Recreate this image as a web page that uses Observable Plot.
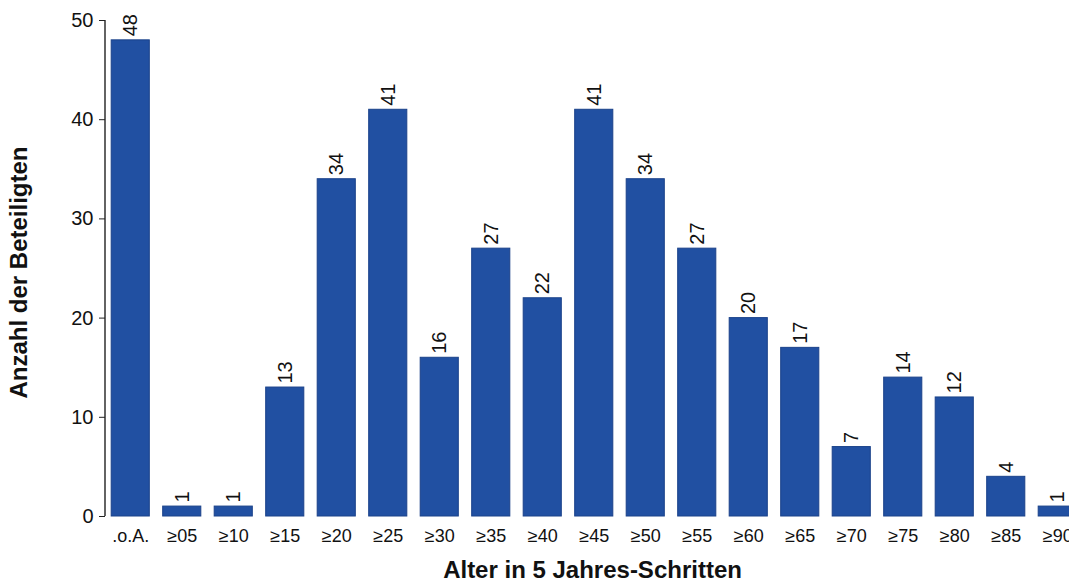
<!DOCTYPE html>
<html><head><meta charset="utf-8">
<script src="https://cdn.jsdelivr.net/npm/d3@7"></script>
<script src="https://cdn.jsdelivr.net/npm/@observablehq/plot@0.6"></script>
<style>
body{margin:0;background:#fff;font-family:"Liberation Sans",Arial,sans-serif;}
svg{overflow:hidden;}
</style></head>
<body><div id="chart"></div>
<script>
const categories = [".o.A.","≥05","≥10","≥15","≥20","≥25","≥30","≥35","≥40","≥45","≥50","≥55","≥60","≥65","≥70","≥75","≥80","≥85","≥90"];
const counts = [48,1,1,13,34,41,16,27,22,41,34,27,20,17,7,14,12,4,1];
const yTicks = [0,10,20,30,40,50];
const yTitle = "Anzahl der Beteiligten";
const xTitle = "Alter in 5 Jahres-Schritten";

const data = categories.map((c,i)=>({cat:c, n:counts[i]}));

const chart = Plot.plot({
  width: 1069, height: 584,
  marginTop: 20, marginBottom: 68, marginLeft: 103, marginRight: 0,
  style: {fontFamily: "Liberation Sans, Arial, sans-serif", background: "#fff"},
  x: {domain: categories, range: [104.5, 1083], paddingInner: 0.26, paddingOuter: 0.13, round: false, axis: null},
  y: {domain: [0, 50], axis: null},
  marks: [
    Plot.gridY(yTicks.filter(d=>d>0), {stroke: "#333", strokeOpacity: 1, strokeWidth: 1.3, x1: 105, x2: 1069}),
    Plot.barY(data, {x: "cat", y: "n", fill: "#2150a2", stroke: "#1a428a", strokeWidth: 1}),
    Plot.ruleY([0], {stroke: "#222", strokeWidth: 1.6, x1: 105, x2: 1069}),
    Plot.axisY(yTicks, {tickSize: 6, fontSize: 20, fill: "#111", tickPadding: 6, stroke: "#222", label: null, dx: 2}),
    Plot.axisX({tickSize: 0, fontSize: 18, fill: "#111", tickPadding: 13, label: null}),
    Plot.text(data, {x: "cat", y: "n", text: d => String(d.n), rotate: -90, textAnchor: "start", lineAnchor: "middle", dy: -4, fontSize: 20, fill: "#111"}),
    Plot.text([yTitle], {frameAnchor: "left", rotate: -90, textAnchor: "middle", lineAnchor: "middle", dx: -84, dy: 4, fontSize: 24, fontWeight: "bold", fill: "#111"}),
    Plot.text([xTitle], {frameAnchor: "bottom", textAnchor: "middle", dy: 61, dx: 6, fontSize: 24, fontWeight: "bold", fill: "#111"})
  ]
});
document.getElementById("chart").appendChild(chart);
// left frame line
const svg = d3.select(chart);
svg.append("line").attr("x1",105).attr("x2",105).attr("y1",20).attr("y2",516).attr("stroke","#222").attr("stroke-width",1.4);
</script>
</body></html>
